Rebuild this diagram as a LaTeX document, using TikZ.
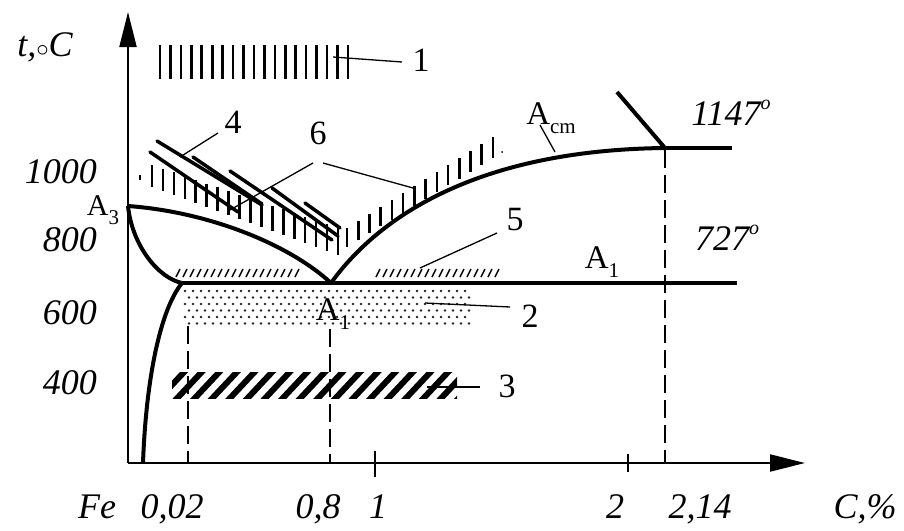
\documentclass[tikz,border=0pt]{standalone}
\usepackage{fontspec}
\setmainfont{Liberation Serif}
\usetikzlibrary{arrows.meta}
\newcommand\lowsub[1]{\raisebox{-0.28em}{\fontsize{21}{21}\selectfont #1}}
\newcommand\degsym{\raisebox{0.45em}{\fontsize{20}{20}\selectfont o}}
\begin{document}
\begin{tikzpicture}[x=1pt,y=-1pt,
  curve/.style={line width=4pt},
  axisline/.style={line width=2pt,-{Triangle[length=35pt,width=17pt]}},
  lead/.style={line width=1.3pt},
  guide/.style={line width=1.3pt, dash pattern=on 18pt off 7pt},
  hatchv/.style={line width=2.6pt},
  hatchd/.style={line width=3.5pt, line cap=round},
  hatchs/.style={line width=1.5pt},
  lab/.style={inner sep=0pt, font={\fontsize{33}{35}\selectfont}},
  num/.style={inner sep=0pt, font={\fontsize{34}{36}\selectfont}},
  ital/.style={inner sep=0pt, font={\fontsize{36}{38}\selectfont\itshape}},
]
\useasboundingbox (0,0) rectangle (904,530);

% key points
\coordinate (O) at (128,463);
\coordinate (ytip) at (128,12);
\coordinate (xtip) at (805,463);
\coordinate (A3) at (128,206);
\coordinate (E) at (331,283);
\coordinate (P) at (182,283);
\coordinate (Q) at (143,463);
\coordinate (C) at (665,148);
\coordinate (A1end) at (737,283);
\coordinate (Cend) at (732,148);
\coordinate (slanttop) at (617,92);

% dashed guides
\coordinate (g1a) at (188,326); \coordinate (g1b) at (188,463);
\coordinate (g2a) at (330,329); \coordinate (g2b) at (330,463);
\coordinate (g3a) at (665,150); \coordinate (g3b) at (665,463);
\draw[guide] (g1a) -- (g1b);
\draw[guide] (g2a) -- (g2b);
\draw[guide] (g3a) -- (g3b);

% zone 2 dots
\foreach \r in {0,...,5}
  \foreach \c in {0,...,35}
    \fill[black!85] ({185+\c*8+mod(\r,2)*4},{291+\r*6.5}) circle (1.3pt);

% zone 3 stripes
\begin{scope}
  \clip (172,372) rectangle (457,398);
  \foreach \i in {0,...,17}
    \draw[line width=6pt] ({156+\i*17.6},402) -- ++(30,-32);
\end{scope}

% zone 1 bars
\foreach \i in {0,...,18}
  \draw[hatchv] ({160+\i*10.44},45) -- ({160+\i*10.44},79);

% zone 6 marks (left)
\draw[hatchv] (140,175) -- (140,180);
\foreach \i in {0,...,17} {
  \pgfmathsetmacro\xx{152+\i*10.94}
  \pgfmathsetmacro\yt{165+(\xx-152)*63/186}
  \pgfmathsetmacro\yb{187+(\xx-152)*68/186}
  \draw[hatchv] (\xx,\yt) -- (\xx,\yb);
}
% zone 6 marks (right)
\foreach \i in {0,...,13} {
  \pgfmathsetmacro\xx{347+\i*11.23}
  \pgfmathsetmacro\yt{228-(\xx-347)*91/146}
  \pgfmathsetmacro\yb{247-(\xx-347)*89/146}
  \draw[hatchv] (\xx,\yt) -- (\xx,\yb);
}
\fill (502,152) circle (1pt);

% zone 4 diagonal stripes
\draw[hatchd] (150,152) -- (238,212);
\draw[hatchd] (157,141) -- (262,205);
\draw[hatchd] (193,157) -- (262,204);
\draw[hatchd] (230,171) -- (332,240);
\draw[hatchd] (272,188) -- (338,236);
\draw[hatchd] (305,203) -- (340,228);

% zone 5 short slashes
\foreach \x in {176,183,...,296}
  \draw[hatchs] (\x,277) -- ++(4,-8);
\foreach \x in {376,383,...,496}
  \draw[hatchs] (\x,277) -- ++(4,-8);

% axes
\draw[axisline] (O) -- (ytip);
\draw[axisline] (O) -- (xtip);
\coordinate (t1a) at (375,451); \coordinate (t1b) at (375,477);
\coordinate (t2a) at (628,454); \coordinate (t2b) at (628,472);
\draw[line width=1.3pt] (t1a) -- (t1b);
\draw[line width=1.3pt] (t2a) -- (t2b);

% phase lines
\draw[curve] (A3) .. controls (210,212) and (290,245) .. (E);
\draw[curve] (A3) .. controls (132,245) and (158,278) .. (P);
\draw[curve] (P) .. controls (160,310) and (146,380) .. (Q);
\draw[curve] (E) .. controls (380,215) and (480,150) .. (C);
\draw[curve] (P) -- (A1end);
\draw[curve] (C) -- (Cend);
\draw[curve] (slanttop) -- (C);

% labels
\node[ital] (tC) at (45,47) {t,$\circ$C};
\node[ital, anchor=east] (y1000) at (97,172) {1000};
\node[ital, anchor=east] (y800) at (97,240) {800};
\node[ital, anchor=east] (y600) at (97,313) {600};
\node[ital, anchor=east] (y400) at (97,383) {400};
\node[lab, font={\fontsize{30}{32}\selectfont}] (lA3) at (103,210) {A\lowsub{3}};
\node[lab] (lA1a) at (333,314) {A\lowsub{1}};
\node[lab] (lA1b) at (602,262) {A\lowsub{1}};
\node[lab] (lAcm) at (551,118) {A\lowsub{cm}};
\node[ital] (l1147) at (731,113) {1147\degsym};
\node[ital] (l727) at (727,238) {727\degsym};

\node[ital, anchor=base] (bFe) at (97,518) {Fe};
\node[ital, anchor=base] (b002) at (172,518) {0,02};
\node[ital, anchor=base] (b08) at (318,518) {0,8};
\node[ital, anchor=base] (b1) at (378,518) {1};
\node[ital, anchor=base] (b2) at (615,518) {2};
\node[ital, anchor=base] (b214) at (700,518) {2,14};
\node[ital, anchor=base] (bC) at (865,518) {C,\%};

\node[num] (n1) at (421,60) {1};
\node[num] (n2) at (530,316) {2};
\node[num] (n3) at (507,386) {3};
\node[num] (n4) at (233,122) {4};
\node[num] (n5) at (515,220) {5};
\node[num] (n6) at (318,133) {6};

% leaders
\coordinate (z1a) at (333,57); \coordinate (z1b) at (402,62);
\coordinate (z2a) at (425,303); \coordinate (z2b) at (510,307);
\coordinate (z3a) at (427,387); \coordinate (z3b) at (480,387);
\coordinate (z4a) at (180,157); \coordinate (z4b) at (218,133);
\coordinate (z5a) at (420,268); \coordinate (z5b) at (497,233);
\coordinate (z6l) at (230,210); \coordinate (z6m) at (313,163);
\coordinate (z6n) at (323,163); \coordinate (z6r) at (413,188);
\coordinate (zcma) at (540,125); \coordinate (zcmb) at (555,152);
\draw[lead] (z1a) -- (z1b);
\draw[lead] (z2a) -- (z2b);
\draw[lead] (z3a) -- (z3b);
\draw[lead] (z4a) -- (z4b);
\draw[lead] (z5a) -- (z5b);
\draw[lead] (z6l) -- (z6m);
\draw[lead] (z6n) -- (z6r);
\draw[lead] (zcma) -- (zcmb);
\end{tikzpicture}
\end{document}
